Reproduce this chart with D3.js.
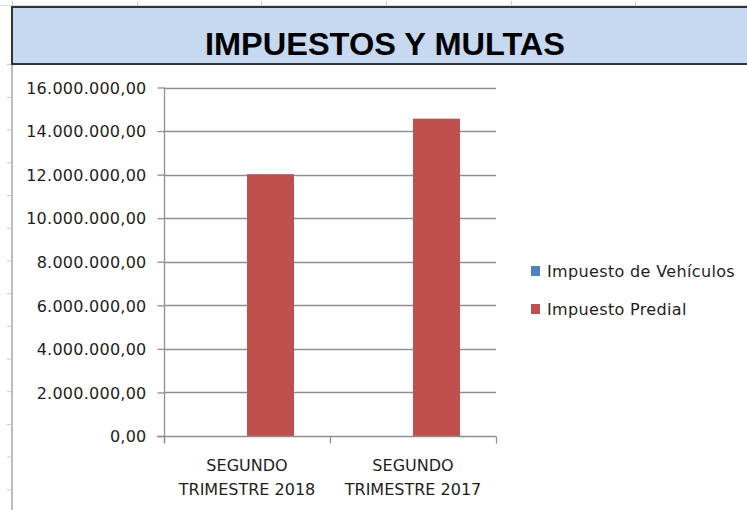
<!DOCTYPE html>
<html>
<head>
<meta charset="utf-8">
<script src="https://cdn.jsdelivr.net/npm/d3@7/dist/d3.min.js"></script>
<style>
  html, body { margin: 0; padding: 0; background: #fff; }
  svg { display: block; }
</style>
</head>
<body>
<script>
// ---- data ----
const title = "IMPUESTOS Y MULTAS";
const categories = ["SEGUNDO TRIMESTRE 2018", "SEGUNDO TRIMESTRE 2017"];
const categoryLines = [["SEGUNDO", "TRIMESTRE 2018"], ["SEGUNDO", "TRIMESTRE 2017"]];
const seriesNames = ["Impuesto de Vehículos", "Impuesto Predial"];
const seriesColors = ["#4f81bd", "#c0504d"];
const vehiculos = [0, 0];
const predial = [12020000, 14570000];
const yTicks = [0, 2000000, 4000000, 6000000, 8000000, 10000000, 12000000, 14000000, 16000000];

const W = 747, H = 510;
const svg = d3.select("body").append("svg").attr("width", W).attr("height", H);

// spreadsheet decorations
const deco = svg.append("g");
deco.append("line").attr("x1", 0).attr("x2", W).attr("y1", 5.5).attr("y2", 5.5)
  .attr("stroke", "#dcdcdc").attr("stroke-width", 1);
[12, 137, 261, 386, 511, 635].forEach(x => {
  deco.append("line").attr("x1", x + 0.5).attr("x2", x + 0.5).attr("y1", 1).attr("y2", 6)
    .attr("stroke", "#d0d0d0");
});
deco.append("line").attr("x1", 12).attr("x2", 12).attr("y1", 64).attr("y2", H)
  .attr("stroke", "#a6a6a6").attr("stroke-width", 1.5);
for (let k = 0; k < 14; k++) {
  const yy = 64.7 + k * 32.7;
  deco.append("line").attr("x1", 7).attr("x2", 12).attr("y1", yy).attr("y2", yy)
    .attr("stroke", "#c8c8c8");
}

// title box
svg.append("rect").attr("x", 12).attr("y", 8).attr("width", W).attr("height", 57)
  .attr("fill", "#a0a0a0");
svg.append("rect").attr("x", 12).attr("y", 7).attr("width", W + 10).attr("height", 57)
  .attr("fill", "#c6d9f1").attr("stroke", "#333").attr("stroke-width", 2);
svg.append("text").attr("x", 385).attr("y", 55)
  .attr("text-anchor", "middle")
  .attr("font-family", "'Liberation Sans Narrow', 'Liberation Sans', Arial, sans-serif")
  .attr("font-weight", "bold").attr("font-size", 31)
  .attr("textLength", 360).attr("lengthAdjust", "spacingAndGlyphs")
  .attr("fill", "#000").text(title);

// scales
const plotL = 164, plotR = 496, plotT = 87.5, plotB = 436;
const y = d3.scaleLinear().domain([0, 16000000]).range([plotB, plotT]);
const x = d3.scaleBand().domain(categories).range([plotL, plotR]).paddingInner(0).paddingOuter(0);
const xs = d3.scaleBand().domain(seriesNames).range([0, x.bandwidth()]).paddingInner(0).paddingOuter(0.766);

const loc = d3.formatLocale({ decimal: ",", thousands: ".", grouping: [3], currency: ["", ""] });
const fmt = loc.format(",.2f");

const font = "'DejaVu Sans', sans-serif";
const txtColor = "#1e1e1e";
const gridColor = "#8f8f8f";

// gridlines
svg.append("g").selectAll("line").data(yTicks.filter(d => d > 0)).join("line")
  .attr("x1", plotL).attr("x2", plotR)
  .attr("y1", d => Math.round(y(d)) + 0.5).attr("y2", d => Math.round(y(d)) + 0.5)
  .attr("stroke", gridColor).attr("stroke-width", 1.3);

// bars
const seriesData = [vehiculos, predial];
const barG = svg.append("g");
seriesNames.forEach((s, si) => {
  barG.selectAll(null).data(categories).join("rect")
    .attr("x", c => x(c) + xs(s))
    .attr("width", xs.bandwidth())
    .attr("y", (c, i) => y(seriesData[si][i]))
    .attr("height", (c, i) => plotB - y(seriesData[si][i]))
    .attr("fill", seriesColors[si]);
});

// y axis
const yAxis = d3.axisLeft(y).tickValues(yTicks).tickFormat(fmt).tickSize(7).tickPadding(11);
const ya = svg.append("g").attr("transform", `translate(${plotL + 0.5},0)`).call(yAxis);
ya.select(".domain").remove();
ya.selectAll(".tick line").attr("stroke", gridColor).attr("stroke-width", 1.3);
ya.selectAll(".tick text").attr("font-family", font).attr("font-size", 16)
  .attr("letter-spacing", 0.25)
  .attr("fill", txtColor).attr("dy", "0.36em");
svg.append("line").attr("x1", plotL + 0.5).attr("x2", plotL + 0.5)
  .attr("y1", plotT).attr("y2", plotB + 7).attr("stroke", gridColor).attr("stroke-width", 1.3);

// x axis
const xAxis = d3.axisBottom(x).tickValues([]).tickSize(0);
const xa = svg.append("g").attr("transform", `translate(0,${plotB + 0.5})`).call(xAxis);
xa.select(".domain").attr("d", `M${plotL - 7},0H${plotR}`).attr("stroke", gridColor).attr("stroke-width", 1.3);
const bounds = [plotL, ...categories.map(c => x(c) + x.bandwidth())];
xa.selectAll(".bt").data(bounds).join("line").attr("class", "bt")
  .attr("x1", d => d + 0.5).attr("x2", d => d + 0.5).attr("y1", 0).attr("y2", 7)
  .attr("stroke", gridColor).attr("stroke-width", 1.3);
const labG = svg.append("g");
categories.forEach((c, i) => {
  const t = labG.append("text").attr("x", x(c) + x.bandwidth() / 2).attr("y", 471)
    .attr("text-anchor", "middle").attr("font-family", font).attr("font-size", 16).attr("fill", txtColor);
  categoryLines[i].forEach((ln, j) => {
    t.append("tspan").attr("x", x(c) + x.bandwidth() / 2).attr("dy", j === 0 ? 0 : 24).text(ln);
  });
});

// legend
const lg = svg.append("g");
seriesNames.forEach((s, i) => {
  const yy = 266 + i * 38;
  lg.append("rect").attr("x", 531).attr("y", yy).attr("width", 9).attr("height", 10).attr("fill", seriesColors[i]);
  lg.append("text").attr("x", 547).attr("y", yy + 11).attr("font-family", font).attr("font-size", 16)
    .attr("letter-spacing", 0.35)
    .attr("fill", txtColor).text(s);
});
</script>
</body>
</html>
